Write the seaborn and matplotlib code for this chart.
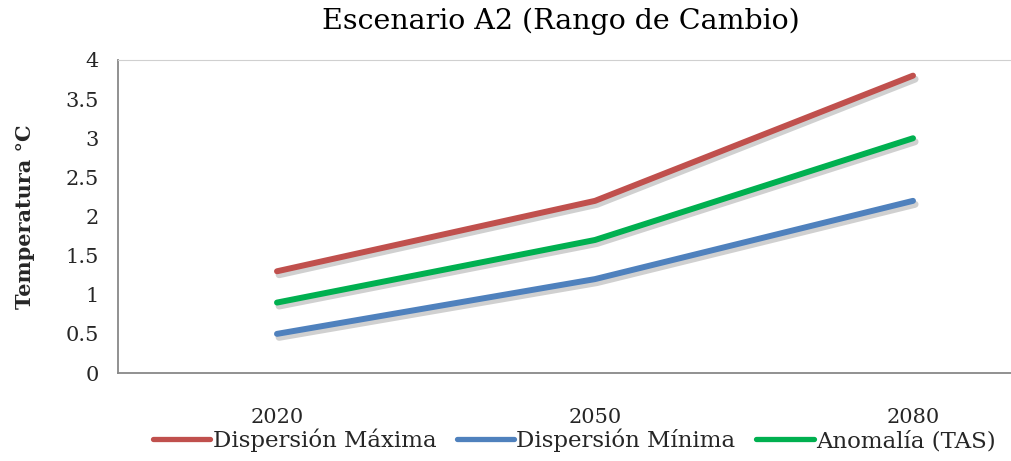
import numpy as np
import pandas as pd
import matplotlib
matplotlib.use("Agg")
import matplotlib.pyplot as plt
import matplotlib.patheffects as pe
import seaborn as sns
from matplotlib.lines import Line2D

years = ["2020", "2050", "2080"]
disp_max = [1.3, 2.2, 3.8]
disp_min = [0.5, 1.2, 2.2]
anomalia = [0.9, 1.7, 3.0]
series_names = ["Dispersión Máxima", "Dispersión Mínima", "Anomalía (TAS)"]
colors = ["#C0504D", "#4F81BD", "#00B050"]
yticks = [0, 0.5, 1, 1.5, 2, 2.5, 3, 3.5, 4]

df = pd.DataFrame({
    "pos": list(range(len(years))) * 3,
    "valor": disp_max + disp_min + anomalia,
    "serie": [series_names[0]] * 3 + [series_names[1]] * 3 + [series_names[2]] * 3,
})

sns.set_style("white")
plt.rcParams["font.family"] = ["DejaVu Serif"]

fig = plt.figure(figsize=(10.11, 4.61), dpi=100)
ax = fig.add_axes([118 / 1011, 88 / 461, 954 / 1011, 313 / 461])

shadow = [pe.SimpleLineShadow(offset=(1.5, -2.5), shadow_color="#8a8a8a", alpha=0.4, linewidth=5), pe.Normal()]
sns.lineplot(data=df, x="pos", y="valor", hue="serie", palette=colors,
             linewidth=4.3, ax=ax, legend=False, solid_capstyle="round")
for line in ax.lines:
    line.set_path_effects(shadow)

ax.set_xlim(-0.5, 2.5)
ax.set_ylim(0, 4)
ax.set_yticks(yticks)
ax.set_yticklabels([f"{t:g}" for t in yticks], fontsize=15)
ax.set_xticks([-0.5, 0.5, 1.5, 2.5])
ax.set_xticklabels([])
ax.xaxis.set_minor_locator(matplotlib.ticker.FixedLocator(range(len(years))))
ax.set_xticklabels(years, minor=True, fontsize=15)
ax.tick_params(axis="x", which="minor", length=0, pad=25)
ax.tick_params(axis="x", which="major", length=8, color="#888888", direction="out")
ax.tick_params(axis="y", length=8, color="#888888", direction="out", pad=6)
ax.set_xlabel("")
ax.set_ylabel("Temperatura °C", fontsize=15, fontweight="bold", labelpad=22)

for side in ["left", "bottom"]:
    ax.spines[side].set_color("#888888")
    ax.spines[side].set_linewidth(1.3)
ax.spines["top"].set_color("#d0d0d0")
ax.spines["right"].set_visible(False)

fig.text(0.555, 0.953, "Escenario A2 (Rango de Cambio)", ha="center", va="center",
         fontsize=20.5, color="black")

handles = [Line2D([0], [0], color=c, lw=3.8) for c in colors]
fig.legend(handles, series_names, loc="center", bbox_to_anchor=(0.568, 0.045), ncol=3,
           frameon=False, fontsize=16.5, handlelength=2.5, handletextpad=0.1, columnspacing=0.9)

fig.savefig("out.png", dpi=100)
